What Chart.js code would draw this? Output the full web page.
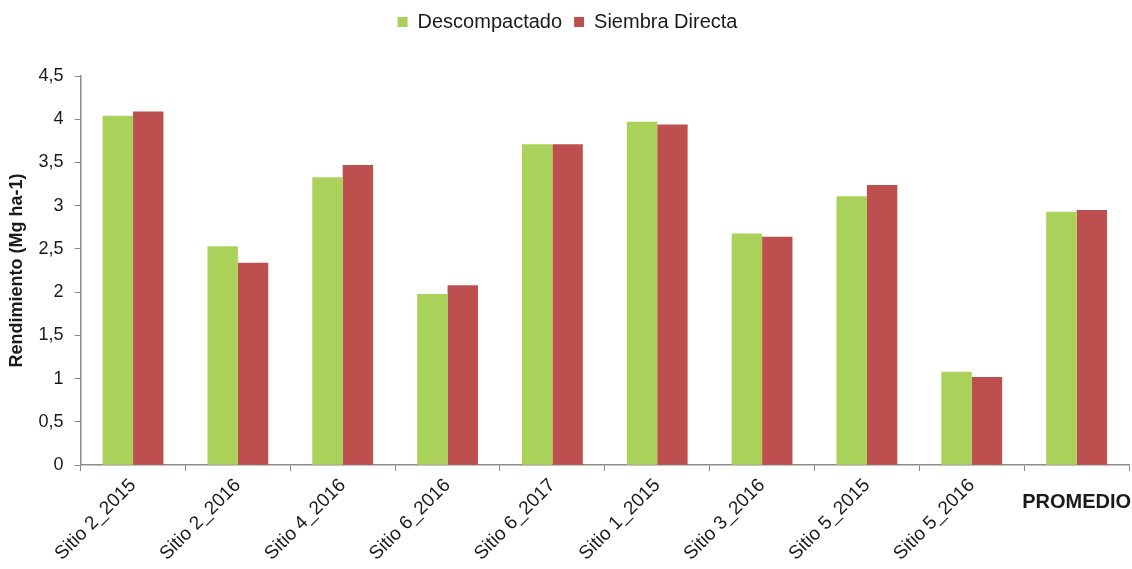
<!DOCTYPE html>
<html lang="es">
<head>
    <meta charset="UTF-8">
    <title>Rendimiento por sitio</title>
    <script src="https://cdn.jsdelivr.net/npm/chart.js@4.4.1/dist/chart.umd.min.js"></script>
    <style>
        html, body { margin: 0; padding: 0; background: #ffffff; }
        .wrap { width: 1132px; height: 569px; position: relative; }
    </style>
</head>
<body>
    <div class="wrap">
        <canvas id="grafico"></canvas>
    </div>

    <script>
        // Datos
        const sitios = ['Sitio 2_2015', 'Sitio 2_2016', 'Sitio 4_2016', 'Sitio 6_2016', 'Sitio 6_2017',
                        'Sitio 1_2015', 'Sitio 3_2016', 'Sitio 5_2015', 'Sitio 5_2016', 'PROMEDIO'];
        const descompactado = [4.04, 2.53, 3.33, 1.98, 3.71, 3.97, 2.68, 3.11, 1.08, 2.93];
        const siembraDirecta = [4.09, 2.34, 3.47, 2.08, 3.71, 3.94, 2.64, 3.24, 1.02, 2.95];
        const ticksY = [0, 0.5, 1, 1.5, 2, 2.5, 3, 3.5, 4, 4.5];

        const fuente = 'Arial, "Liberation Sans", sans-serif';

        // la etiqueta PROMEDIO va horizontal y en negrita, no rotada
        const etiquetaPromedio = {
            id: 'etiquetaPromedio',
            afterDraw(chart) {
                const x = chart.scales.x;
                const ctx = chart.ctx;
                const i = sitios.indexOf('PROMEDIO');
                ctx.save();
                ctx.font = 'bold 20px ' + fuente;
                ctx.fillStyle = '#1a1a1a';
                ctx.textAlign = 'center';
                ctx.textBaseline = 'middle';
                ctx.fillText(sitios[i], x.getPixelForValue(i), x.top + 37);
                ctx.restore();
            }
        };

        // espacio extra debajo de la leyenda
        const espacioLeyenda = {
            id: 'espacioLeyenda',
            beforeInit(chart) {
                const fit = chart.legend.fit;
                chart.legend.fit = function () {
                    fit.bind(chart.legend)();
                    this.height += 34;
                };
            }
        };

        const ctx = document.getElementById('grafico').getContext('2d');
        new Chart(ctx, {
            type: 'bar',
            data: {
                labels: sitios,
                datasets: [{
                    label: 'Descompactado',
                    data: descompactado,
                    backgroundColor: '#aad25a',
                    borderWidth: 0
                }, {
                    label: 'Siembra Directa',
                    data: siembraDirecta,
                    backgroundColor: '#bd504e',
                    borderWidth: 0
                }]
            },
            options: {
                responsive: true,
                maintainAspectRatio: false,
                animation: false,
                categoryPercentage: 0.58,
                barPercentage: 1.0,
                layout: { padding: { top: 0, right: 3, left: 6, bottom: 1 } },
                plugins: {
                    legend: {
                        position: 'top',
                        labels: {
                            boxWidth: 10,
                            boxHeight: 10,
                            padding: 12,
                            color: '#1a1a1a',
                            font: { family: fuente, size: 20 }
                        }
                    },
                    tooltip: { enabled: false }
                },
                scales: {
                    x: {
                        grid: {
                            offset: true,
                            drawOnChartArea: false,
                            drawTicks: true,
                            tickLength: 6,
                            color: '#8c8c8c'
                        },
                        border: { color: '#8c8c8c', width: 1.5 },
                        ticks: {
                            minRotation: 45,
                            maxRotation: 45,
                            autoSkip: false,
                            color: '#1a1a1a',
                            font: { family: fuente, size: 19 },
                            callback: function (v, i) {
                                return sitios[i] === 'PROMEDIO' ? '' : sitios[i];
                            }
                        }
                    },
                    y: {
                        min: 0,
                        max: 4.5,
                        afterBuildTicks: function (axis) {
                            axis.ticks = ticksY.map(v => ({ value: v }));
                        },
                        grid: {
                            drawOnChartArea: false,
                            drawTicks: true,
                            tickLength: 6,
                            color: '#8c8c8c'
                        },
                        border: { color: '#8c8c8c', width: 1.5 },
                        ticks: {
                            padding: 11,
                            color: '#1a1a1a',
                            font: { family: fuente, size: 18 },
                            callback: v => String(v).replace('.', ',')
                        },
                        title: {
                            display: true,
                            text: 'Rendimiento (Mg ha-1)',
                            color: '#1a1a1a',
                            font: { family: fuente, size: 18, weight: 'bold' },
                            padding: { top: 0, bottom: 0 }
                        }
                    }
                }
            },
            plugins: [etiquetaPromedio, espacioLeyenda]
        });
    </script>
</body>
</html>
